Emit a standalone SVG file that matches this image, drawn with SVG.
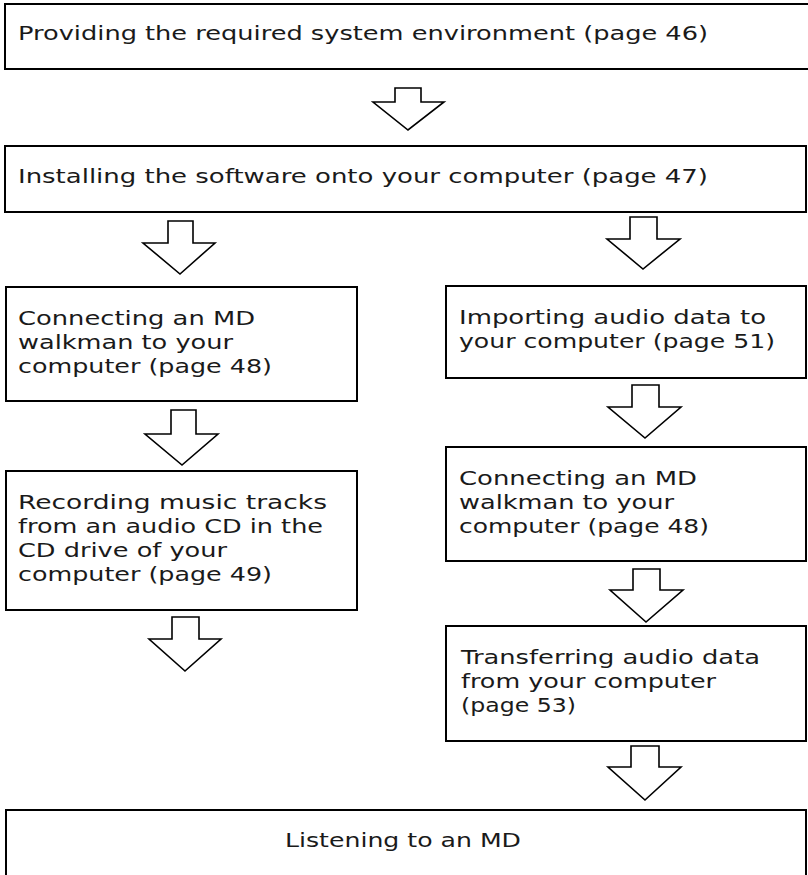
<svg xmlns="http://www.w3.org/2000/svg" width="808" height="875" viewBox="0 0 808 875">
<style>
.box{fill:#fff;stroke:#000;stroke-width:2}
.arr{fill:#fff;stroke:#000;stroke-width:1.6;stroke-linejoin:miter}
text{font-family:"DejaVu Sans","Verdana",sans-serif;font-size:20px;fill:#1a1a1a}
</style>
<rect width="808" height="875" fill="#fff"/>
<g id="connectors">
<polygon class="arr" points="395,88 421,88 421,102 444,102 408,130 373,102 395,102"/>
<polygon class="arr" points="168,221 193,221 193,243 215,243 180,274 143,243 168,243"/>
<polygon class="arr" points="630,217 657,217 657,239 680,239 643,269 607,239 630,239"/>
<polygon class="arr" points="171,410 196,410 196,434 218,434 182,465 145,434 171,434"/>
<polygon class="arr" points="632,385 659,385 659,407 681,407 645,438 608,407 632,407"/>
<polygon class="arr" points="172,617 199,617 199,639 221,639 185,671 149,639 172,639"/>
<polygon class="arr" points="633,569 660,569 660,590 683,590 646,622 610,590 633,590"/>
<polygon class="arr" points="631,746 659,746 659,767 681,767 645,800 608,767 631,767"/>
</g>
<g id="n1">
<rect class="box" x="5" y="4" width="810" height="65"/>
<text x="18" y="40" textLength="690" lengthAdjust="spacingAndGlyphs">Providing the required system environment (page 46)</text>
</g>
<g id="n2">
<rect class="box" x="5" y="146" width="801" height="66"/>
<text x="18" y="183" textLength="690" lengthAdjust="spacingAndGlyphs">Installing the software onto your computer (page 47)</text>
</g>
<g id="n3">
<rect class="box" x="6" y="287" width="351" height="114"/>
<text x="18" y="325" textLength="237" lengthAdjust="spacingAndGlyphs">Connecting an MD</text>
<text x="18" y="349" textLength="215" lengthAdjust="spacingAndGlyphs">walkman to your</text>
<text x="18" y="373" textLength="254" lengthAdjust="spacingAndGlyphs">computer (page 48)</text>
</g>
<g id="n4">
<rect class="box" x="446" y="286" width="360" height="92"/>
<text x="459" y="324" textLength="307" lengthAdjust="spacingAndGlyphs">Importing audio data to</text>
<text x="459" y="348" textLength="316" lengthAdjust="spacingAndGlyphs">your computer (page 51)</text>
</g>
<g id="n5">
<rect class="box" x="6" y="471" width="351" height="139"/>
<text x="18" y="509" textLength="309" lengthAdjust="spacingAndGlyphs">Recording music tracks</text>
<text x="18" y="533" textLength="305" lengthAdjust="spacingAndGlyphs">from an audio CD in the</text>
<text x="18" y="557" textLength="209" lengthAdjust="spacingAndGlyphs">CD drive of your</text>
<text x="18" y="581" textLength="254" lengthAdjust="spacingAndGlyphs">computer (page 49)</text>
</g>
<g id="n6">
<rect class="box" x="446" y="447" width="360" height="114"/>
<text x="459" y="485" textLength="238" lengthAdjust="spacingAndGlyphs">Connecting an MD</text>
<text x="459" y="509" textLength="215" lengthAdjust="spacingAndGlyphs">walkman to your</text>
<text x="459" y="533" textLength="250" lengthAdjust="spacingAndGlyphs">computer (page 48)</text>
</g>
<g id="n7">
<rect class="box" x="446" y="626" width="360" height="115"/>
<text x="461" y="664" textLength="299" lengthAdjust="spacingAndGlyphs">Transferring audio data</text>
<text x="461" y="688" textLength="255" lengthAdjust="spacingAndGlyphs">from your computer</text>
<text x="461" y="712" textLength="115" lengthAdjust="spacingAndGlyphs">(page 53)</text>
</g>
<g id="n8">
<rect class="box" x="6" y="810" width="800" height="80"/>
<text x="285" y="847" textLength="236" lengthAdjust="spacingAndGlyphs">Listening to an MD</text>
</g>
</svg>
